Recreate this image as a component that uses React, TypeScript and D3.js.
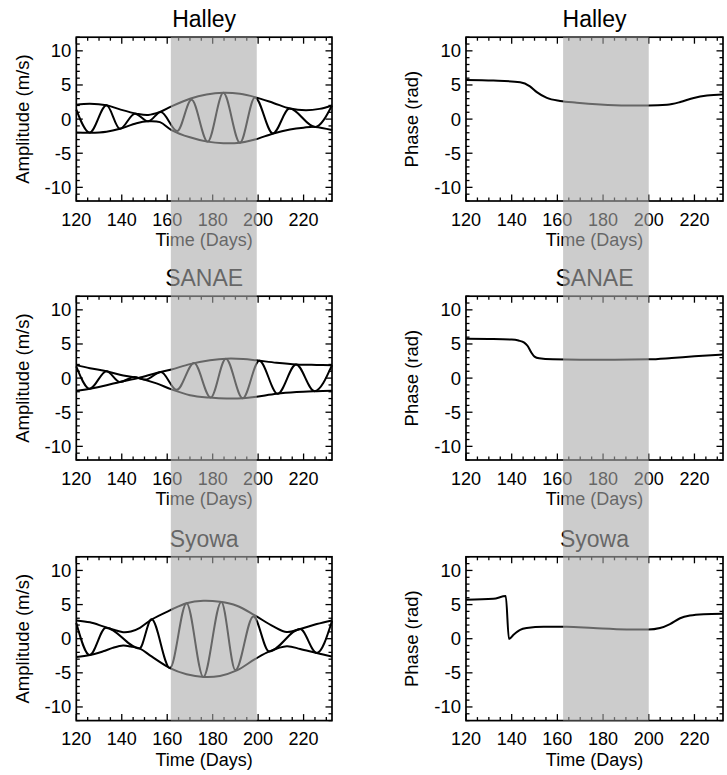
import React from "react";
import * as d3 from "d3";

type Pt = [number, number];

const stations = ["Halley", "SANAE", "Syowa"];
const xTicks = [120, 140, 160, 180, 200, 220];
const yTicks = [-10, -5, 0, 5, 10];
const xDomain: Pt = [120, 232.5];
const yDomain: Pt = [-12, 12];
const bandAmp: Pt = [161.6, 199.4];
const bandPhase: Pt = [162.5, 200];

// Halley amplitude
const halleyUpper: Pt[] = [[120, 2.1], [126, 2.25], [133.3, 2.02], [139.2, 1.42], [146.5, 0.8], [151.6, 0.6], [156.8, 1.05], [161.9, 1.87], [170, 2.98], [177.3, 3.6], [184.7, 3.85], [192, 3.7], [198.6, 3.22], [206.7, 2.37], [214, 1.55], [221, 1.3], [227, 1.5], [232.5, 2.0]];
const halleyLower: Pt[] = [[120, -1.95], [126, -2.0], [133.3, -1.85], [139.2, -1.42], [146.5, -0.6], [151.6, -0.32], [156.8, -0.45], [161.9, -1.6], [170, -2.67], [177.6, -3.3], [184.7, -3.54], [192, -3.46], [198.6, -3.0], [206.7, -2.1], [214, -1.52], [220, -1.25], [225.1, -1.14], [232.5, -1.6]];
const halleyWave: Pt[] = [[120, 1.4], [125.9, -1.98], [133.3, 2.02], [139.2, -1.42], [145.8, 0.8], [151.6, -0.33], [157.2, 1.05], [164.4, -1.75], [170.7, 2.84], [177.8, -3.3], [184.7, 3.85], [192, -3.46], [198.6, 3.18], [206.5, -2.1], [213.8, 1.55], [225.1, -1.14], [232.5, 2.0]];

// SANAE amplitude
const sanaeUpper: Pt[] = [[120, 1.9], [126, 1.45], [133.3, 1.0], [139.2, 0.5], [147.2, 0], [155.3, -0.78], [161.9, -1.66], [170, -2.5], [178.8, -2.86], [186.1, -3.0], [193.4, -2.95], [199.3, -2.73], [208.1, -2.3], [216.9, -2.05], [225.7, -1.92], [232.5, -1.85]];
const sanaeLower: Pt[] = [[120, -1.85], [126, -1.55], [133.3, -1.05], [139.2, -0.56], [147.2, 0], [155.3, 0.75], [161.9, 1.27], [170, 2.05], [178.8, 2.6], [186.1, 2.85], [193.4, 2.8], [199.3, 2.6], [208.1, 2.25], [216.9, 2.0], [225.7, 1.93], [232.5, 1.9]];
const sanaeWave: Pt[] = [[120, 1.7], [125.9, -1.55], [133.3, 1.02], [139.2, -0.56], [145.5, 0.15], [150.5, -0.22], [157.2, 0.9], [164.2, -1.72], [171.8, 2.2], [179.1, -2.86], [185.8, 2.85], [193.2, -2.95], [200.5, 2.55], [208.6, -2.3], [216.7, 2.0], [224.8, -1.92], [232.5, 1.9]];

// Syowa amplitude
const syowaUpper: Pt[] = [[120, 2.68], [126, 2.4], [131.8, 1.8], [136, 1.35], [140.6, 0.95], [144, 1.05], [148, 1.6], [153.1, 2.8], [161.2, 4.15], [168.5, 5.2], [175.9, 5.56], [183.2, 5.4], [190.6, 4.83], [198.6, 3.4], [206.7, 1.8], [212.6, 0.97], [218.5, 1.41], [225.8, 2.15], [232.5, 2.68]];
const syowaLower: Pt[] = [[120, -2.68], [126, -2.4], [131.8, -1.85], [136, -1.35], [140.6, -1.0], [144, -1.15], [148, -1.45], [153.1, -2.6], [161.2, -4.3], [168.5, -5.2], [176, -5.6], [183.2, -5.45], [190.6, -4.65], [198.6, -3.0], [205, -1.86], [212.6, -1.12], [218.5, -1.5], [225.8, -2.1], [232.5, -2.6]];
const syowaWave: Pt[] = [[120, 2.3], [125.9, -2.4], [133, 1.6], [147.8, -1.42], [153.1, 2.85], [161.2, -4.3], [168.5, 5.2], [175.9, -5.6], [183.8, 5.38], [190, -4.6], [197.9, 3.27], [204.8, -1.86], [218.5, 1.41], [225.8, -2.1], [232.5, 2.6]];

// Phases
const halleyPhase: Pt[] = [[120, 5.74], [132, 5.65], [143.7, 5.4], [148, 4.8], [151, 3.95], [155.4, 3.1], [161.2, 2.65], [168.5, 2.4], [178.8, 2.15], [190.5, 2.0], [200, 1.98], [208, 2.1], [213.8, 2.5], [219.7, 3.1], [225.5, 3.45], [232.5, 3.6]];
const sanaePhase: Pt[] = [[120, 5.75], [130, 5.72], [140, 5.65], [143, 5.5], [145.5, 5.2], [147, 4.7], [148.5, 3.8], [150, 3.15], [152, 2.9], [158, 2.75], [170, 2.7], [185, 2.7], [200, 2.75], [210, 2.95], [220, 3.2], [232.5, 3.45]];
const syowaPhase: Pt[] = [[120, 5.7], [132, 5.85], [137.4, 6.25], [138.8, -0.05], [140.8, 0.58], [143.7, 1.3], [146.6, 1.56], [154, 1.75], [164, 1.75], [175.7, 1.56], [190.3, 1.36], [199.8, 1.34], [204.9, 1.56], [209.3, 2.15], [213.7, 3.0], [218, 3.4], [224, 3.6], [232.5, 3.66]];

const ampData = [
  { upper: halleyUpper, lower: halleyLower, wave: halleyWave },
  { upper: sanaeUpper, lower: sanaeLower, wave: sanaeWave },
  { upper: syowaUpper, lower: syowaLower, wave: syowaWave },
];
const phaseData = [halleyPhase, sanaePhase, syowaPhase];

const W = 727;
const H = 775;
const rowTops = [37.2, 296.2, 556.8];
const plotH = 163.8;
const colLefts = [76.3, 466];
const plotWs = [255.7, 257];
const FONT = "'Liberation Sans', Arial, Helvetica, sans-serif";

function Frame({ x, y, title, ylabel }: { x: d3.ScaleLinear<number, number>; y: d3.ScaleLinear<number, number>; title: string; ylabel: string }) {
  const [x0, x1] = x.range();
  const [y1, y0] = y.range();
  const minorX = d3.range(xDomain[0], xDomain[1] + 0.01, 5);
  const minorY = d3.range(yDomain[0], yDomain[1] + 0.01, 1);
  const maj = 6.5;
  const mnr = 3.5;
  return (
    <g>
      <rect x={x0} y={y0} width={x1 - x0} height={y1 - y0} fill="none" stroke="#000" strokeWidth={1.7} />
      {minorX.map((t) => {
        const isMaj = xTicks.includes(t);
        const L = isMaj ? maj : mnr;
        return (
          <g key={"x" + t}>
            <line x1={x(t)} x2={x(t)} y1={y1} y2={y1 - L} stroke="#000" strokeWidth={1.3} />
            <line x1={x(t)} x2={x(t)} y1={y0} y2={y0 + L} stroke="#000" strokeWidth={1.3} />
          </g>
        );
      })}
      {minorY.map((v) => {
        const isMaj = yTicks.includes(v);
        const L = isMaj ? maj : mnr;
        return (
          <g key={"y" + v}>
            <line x1={x0} x2={x0 + L} y1={y(v)} y2={y(v)} stroke="#000" strokeWidth={1.3} />
            <line x1={x1} x2={x1 - L} y1={y(v)} y2={y(v)} stroke="#000" strokeWidth={1.3} />
          </g>
        );
      })}
      {xTicks.map((t) => (
        <text key={"xl" + t} x={x(t)} y={y1 + 24.8} textAnchor="middle" fontSize={18} fontFamily={FONT} fill="#000">
          {t}
        </text>
      ))}
      {yTicks.map((v) => (
        <text key={"yl" + v} x={x0 - 5} y={y(v) + 6.5} textAnchor="end" fontSize={18.5} fontFamily={FONT} fill="#000">
          {v}
        </text>
      ))}
      <text x={(x0 + x1) / 2} y={y1 + 45} textAnchor="middle" fontSize={18} fontFamily={FONT} fill="#000">
        Time (Days)
      </text>
      <text
        transform={`translate(${x0 - 47.8},${(y0 + y1) / 2}) rotate(-90)`}
        textAnchor="middle"
        fontSize={18.5}
        fontFamily={FONT}
        fill="#000"
      >
        {ylabel}
      </text>
      <text x={(x0 + x1) / 2} y={y0 - 10} textAnchor="middle" fontSize={23} fontFamily={FONT} fill="#000">
        {title}
      </text>
    </g>
  );
}

export default function App() {
  const lineSmooth = d3.line<Pt>().curve(d3.curveCatmullRom.alpha(0.5));
  const lineWave = d3.line<Pt>().curve(d3.curveMonotoneX);

  const panels: React.ReactNode[] = [];
  stations.forEach((name, r) => {
    // amplitude
    {
      const x = d3.scaleLinear().domain(xDomain).range([colLefts[0], colLefts[0] + plotWs[0]]);
      const y = d3.scaleLinear().domain(yDomain).range([rowTops[r] + plotH, rowTops[r]]);
      const d = ampData[r];
      const sx = (p: Pt): Pt => [x(p[0]), y(p[1])];
      panels.push(
        <g key={"a" + r}>
          <path d={lineSmooth(d.upper.map(sx)) || ""} fill="none" stroke="#000" strokeWidth={2} />
          <path d={lineSmooth(d.lower.map(sx)) || ""} fill="none" stroke="#000" strokeWidth={2} />
          <path d={lineWave(d.wave.map(sx)) || ""} fill="none" stroke="#000" strokeWidth={2} />
          <Frame x={x} y={y} title={name} ylabel="Amplitude (m/s)" />
        </g>
      );
    }
    // phase
    {
      const x = d3.scaleLinear().domain(xDomain).range([colLefts[1], colLefts[1] + plotWs[1]]);
      const y = d3.scaleLinear().domain(yDomain).range([rowTops[r] + plotH, rowTops[r]]);
      const sx = (p: Pt): Pt => [x(p[0]), y(p[1])];
      panels.push(
        <g key={"p" + r}>
          <path d={lineWave(phaseData[r].map(sx)) || ""} fill="none" stroke="#000" strokeWidth={2} />
          <Frame x={x} y={y} title={name} ylabel="Phase (rad)" />
        </g>
      );
    }
  });

  const bands = [bandAmp, bandPhase].map((b, c) => {
    const x = d3.scaleLinear().domain(xDomain).range([colLefts[c], colLefts[c] + plotWs[c]]);
    return (
      <rect
        key={"band" + c}
        x={x(b[0])}
        y={rowTops[0]}
        width={x(b[1]) - x(b[0])}
        height={rowTops[2] + plotH - rowTops[0]}
        fill="#aaaaaa"
        fillOpacity={0.6}
      />
    );
  });

  return (
    <svg width={W} height={H} style={{ position: "absolute", left: 0, top: 0, display: "block", background: "#fff" }}>
      <rect x={0} y={0} width={W} height={H} fill="#fff" />
      {panels}
      {bands}
    </svg>
  );
}
